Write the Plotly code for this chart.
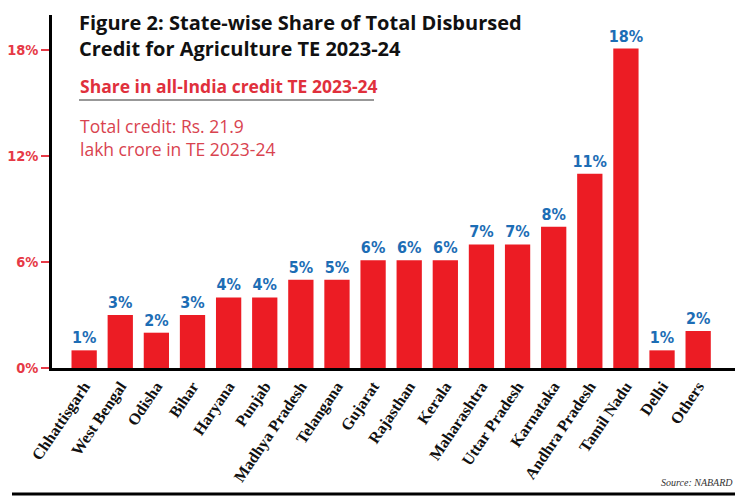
import plotly.graph_objects as go

states = ["Chhattisgarh", "West Bengal", "Odisha", "Bihar", "Haryana", "Punjab",
          "Madhya Pradesh", "Telangana", "Gujarat", "Rajasthan", "Kerala",
          "Maharashtra", "Uttar Pradesh", "Karnataka", "Andhra Pradesh",
          "Tamil Nadu", "Delhi", "Others"]
share = [1.0, 3.0, 2.0, 3.0, 4.0, 4.0, 5.0, 5.0, 6.1, 6.1, 6.1, 7.0, 7.0, 8.0, 11.0, 18.1, 1.0, 2.1]
labels = [f"{round(v)}%" for v in share]
ytick_vals = [0, 6, 12, 18]
ytick_text = ["0%", "6%", "12%", "18%"]

RED = "#ec1c24"
BLUE = "#1c6db5"
TICKRED = "#e63946"
SUBRED = "#e0303c"
NOTERED = "#d9434f"
COND = "DejaVu Sans Condensed, Liberation Sans Narrow, sans-serif"
SANS = "Open Sans, sans-serif"

# the page has an 8px body margin; plot area on the page spans x 52..735, y 15..368
def px(x):
    return (x - 52) / 683.0

def py(y):
    return (368 - y) / 353.0

fig = go.Figure()
fig.add_trace(go.Bar(
    x=states, y=share, marker_color=RED, marker_line_width=0,
    text=labels, textposition="outside", cliponaxis=False, constraintext="none",
    textfont=dict(family=COND, size=16, color=BLUE, weight="bold"),
    width=0.7,
))

fig.update_layout(
    width=750, height=501,
    margin=dict(l=44, r=23, t=7, b=141, autoexpand=False),
    paper_bgcolor="white", plot_bgcolor="white",
    showlegend=False,
    xaxis=dict(
        range=[-0.89, 18.02], showline=True, linecolor="black", linewidth=2.5,
        ticks="", tickangle=-56, automargin=False,
        tickfont=dict(family="Liberation Serif, serif", size=16, color="#111", weight="bold"),
        showgrid=False,
    ),
    yaxis=dict(
        range=[0, 20], showline=True, linecolor="black", linewidth=2.5,
        tickvals=ytick_vals, ticktext=ytick_text, automargin=False,
        ticks="outside", ticklen=8, tickcolor=TICKRED, tickwidth=1.5,
        tickfont=dict(family=COND, size=14.5, color=TICKRED, weight="bold"),
        showgrid=False, zeroline=False,
    ),
    shapes=[
        dict(type="line", xref="paper", yref="paper", x0=px(79), x1=px(374), y0=py(100), y1=py(100),
             line=dict(color="#333", width=1.2)),
        dict(type="line", xref="paper", yref="paper", x0=px(12), x1=px(735), y0=py(494), y1=py(494),
             line=dict(color="black", width=3)),
    ],
    annotations=[
        dict(text="<b>Figure 2: State-wise Share of Total Disbursed<br>Credit for Agriculture TE 2023-24</b>",
             xref="paper", yref="paper", x=px(78), y=py(35), xanchor="left", yanchor="middle",
             align="left", showarrow=False, borderpad=0,
             font=dict(family=SANS, size=20, color="#111")),
        dict(text="<b>Share in all-India credit TE 2023-24</b>",
             xref="paper", yref="paper", x=px(78), y=py(86), xanchor="left", yanchor="middle",
             showarrow=False, font=dict(family=SANS, size=17.5, color=SUBRED)),
        dict(text="Total credit: Rs. 21.9",
             xref="paper", yref="paper", x=px(78), y=py(126), xanchor="left", yanchor="middle",
             showarrow=False, font=dict(family=SANS, size=17.5, color=NOTERED)),
        dict(text="lakh crore in TE 2023-24",
             xref="paper", yref="paper", x=px(78), y=py(149), xanchor="left", yanchor="middle",
             showarrow=False, font=dict(family=SANS, size=17.5, color=NOTERED)),
        dict(text="<i>Source: NABARD</i>",
             xref="paper", yref="paper", x=1.0, y=py(482), xanchor="right", yanchor="middle",
             showarrow=False,
             font=dict(family="Liberation Serif, serif", size=10, color="#333")),
    ],
)

fig.write_html("out.html")
